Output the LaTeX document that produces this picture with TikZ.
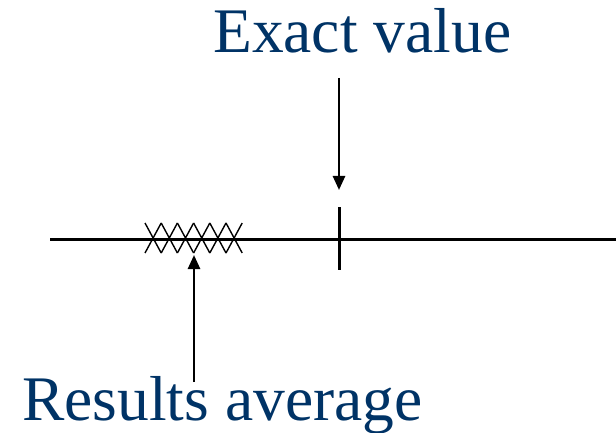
\documentclass[tikz,border=0pt]{standalone}
\usepackage{fontspec}
\setmainfont{Liberation Serif}
\usetikzlibrary{arrows.meta}
\definecolor{txtblue}{RGB}{0,51,102}
\begin{document}
\begin{tikzpicture}[x=1pt,y=-1pt,
  lbl/.style={inner sep=0pt,anchor=base west,text=txtblue,font=\rmfamily},
  ln/.style={line width=3pt},
  arr/.style={line width=2.5pt,-{Triangle[length=14pt,width=12pt]}},
  crs/.style={line width=1.4pt}]
\useasboundingbox (0,0) rectangle (616,433);
\node[lbl] (ev) at (213,53) {\fontsize{63.5}{63.5}\selectfont Exact value};
\node[lbl] (ra) at (22,420) {\fontsize{63.5}{63.5}\selectfont Results average};
\coordinate (L) at (50,239);
\coordinate (R) at (616,239);
\draw[ln] (L) -- (R);
\coordinate (tt) at (339,207);
\coordinate (tb) at (339,270);
\draw[ln] (tt) -- (tb);
\coordinate (a1s) at (339,78);
\coordinate (a1e) at (339,190);
\draw[arr] (a1s) -- (a1e);
\coordinate (a2s) at (194,382);
\coordinate (a2e) at (194,255);
\draw[arr] (a2s) -- (a2e);
\foreach \k in {0,...,5} {
  \pgfmathsetmacro{\xa}{145+16.2*\k}
  \pgfmathsetmacro{\xb}{\xa+16.2}
  \draw[crs] (\xa,223) -- (\xb,253) (\xa,253) -- (\xb,223);
}
\end{tikzpicture}
\end{document}
